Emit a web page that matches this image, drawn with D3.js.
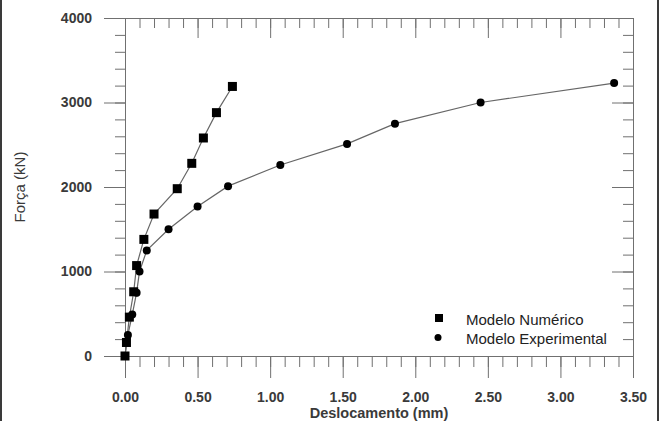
<!DOCTYPE html>
<html>
<head>
<meta charset="utf-8">
<script src="https://cdn.jsdelivr.net/npm/d3@7"></script>
<style>
  body { margin: 0; background: #fff; }
  svg { display: block; }
</style>
</head>
<body>
<script>
// displacement (mm) and force (kN)
const numX = [0, 0.01, 0.03, 0.06, 0.08, 0.13, 0.20, 0.36, 0.46, 0.54, 0.63, 0.74]
const numF = [0, 160, 460, 760, 1070, 1380, 1680, 1980, 2280, 2580, 2880, 3190]
const expX = [0, 0.02, 0.05, 0.08, 0.10, 0.15, 0.30, 0.50, 0.71, 1.07, 1.53, 1.86, 2.45, 3.37]
const expF = [0, 250, 490, 750, 1000, 1250, 1500, 1770, 2010, 2260, 2510, 2750, 3000, 3230]

const xMajor = [0, 0.5, 1, 1.5, 2, 2.5, 3, 3.5]
const xMinor = d3.range(0, 36).map(i => i / 10)
const yMajor = [0, 1000, 2000, 3000, 4000]
const yMinor = d3.range(0, 21).map(i => i * 200)

const seriesNames = ['Modelo Numérico', 'Modelo Experimental']

const width = 661, height = 421
const margin = {top: 18, right: 28, bottom: 65, left: 125}
const font = "'Liberation Sans', Arial, sans-serif"

const svg = d3.select('body').append('svg')
    .attr('width', width)
    .attr('height', height)
    .attr('font-family', font)

const x = d3.scaleLinear().domain([0, 3.5]).range([margin.left, width - margin.right])
const y = d3.scaleLinear().domain([0, 4000]).range([height - margin.bottom, margin.top])

const axisColor = '#707070'
const textColor = '#3a3a3a'

function styleAxis(g, noText) {
    g.attr('font-family', font)
    g.selectAll('.domain').attr('stroke', axisColor)
    g.selectAll('.tick line').attr('stroke', axisColor)
    g.selectAll('.tick text')
        .attr('fill', textColor)
        .attr('font-size', 14)
        .attr('font-weight', 'bold')
    if (noText) g.selectAll('.tick text').remove()
}

// minor ticks first
svg.append('g')
    .attr('transform', `translate(0,${y(0)})`)
    .call(d3.axisBottom(x).tickValues(xMinor).tickSize(11).tickSizeOuter(0).tickFormat(''))
    .call(g => styleAxis(g, true))
svg.append('g')
    .attr('transform', `translate(0,${y(4000)})`)
    .call(d3.axisBottom(x).tickValues(xMinor).tickSize(10).tickSizeOuter(0).tickFormat(''))
    .call(g => styleAxis(g, true))
svg.append('g')
    .attr('transform', `translate(${x(0)},0)`)
    .call(d3.axisLeft(y).tickValues(yMinor).tickSize(10).tickSizeOuter(0).tickFormat(''))
    .call(g => styleAxis(g, true))
svg.append('g')
    .attr('transform', `translate(${x(3.5)},0)`)
    .call(d3.axisLeft(y).tickValues(yMinor).tickSize(10).tickSizeOuter(0).tickFormat(''))
    .call(g => styleAxis(g, true))

// major ticks
svg.append('g')
    .attr('transform', `translate(0,${y(0)})`)
    .call(d3.axisBottom(x).tickValues(xMajor).tickSize(22).tickSizeOuter(0)
        .tickPadding(14).tickFormat(d3.format('.2f')))
    .call(g => styleAxis(g, false))
svg.append('g')
    .attr('transform', `translate(0,${y(4000)})`)
    .call(d3.axisBottom(x).tickValues(xMajor).tickSize(20).tickSizeOuter(0).tickFormat(''))
    .call(g => styleAxis(g, true))
svg.append('g')
    .attr('transform', `translate(${x(0)},0)`)
    .call(d3.axisLeft(y).tickValues(yMajor).tickSize(21).tickSizeOuter(0)
        .tickPadding(12).tickFormat(d3.format('d')))
    .call(g => styleAxis(g, false))
svg.append('g')
    .attr('transform', `translate(${x(3.5)},0)`)
    .call(d3.axisLeft(y).tickValues(yMajor).tickSize(21).tickSizeOuter(0).tickFormat(''))
    .call(g => styleAxis(g, true))

// axis titles
svg.append('text')
    .attr('x', (x(0) + x(3.5)) / 2)
    .attr('y', 418)
    .attr('text-anchor', 'middle')
    .attr('font-size', 14.5)
    .attr('font-weight', 'bold')
    .attr('fill', textColor)
    .text('Deslocamento (mm)')

svg.append('text')
    .attr('transform', `translate(25,${(y(0) + y(4000)) / 2}) rotate(-90)`)
    .attr('text-anchor', 'middle')
    .attr('font-size', 15)
    .attr('fill', textColor)
    .text('Força (kN)')

// data
const line = d3.line().x(d => x(d[0])).y(d => y(d[1]))
const numData = numX.map((v, i) => [v, numF[i]])
const expData = expX.map((v, i) => [v, expF[i]])

svg.append('path')
    .datum(expData)
    .attr('d', line)
    .attr('fill', 'none')
    .attr('stroke', '#666')
    .attr('stroke-width', 1.2)
svg.append('path')
    .datum(numData)
    .attr('d', line)
    .attr('fill', 'none')
    .attr('stroke', '#666')
    .attr('stroke-width', 1.2)

svg.append('g')
    .selectAll('circle')
    .data(expData)
    .join('circle')
        .attr('cx', d => x(d[0]))
        .attr('cy', d => y(d[1]))
        .attr('r', 4)
        .attr('fill', '#000')

const sq = 9
svg.append('g')
    .selectAll('rect')
    .data(numData)
    .join('rect')
        .attr('x', d => x(d[0]) - sq / 2)
        .attr('y', d => y(d[1]) - sq / 2)
        .attr('width', sq)
        .attr('height', sq)
        .attr('fill', '#000')

// legend
const legend = svg.append('g').attr('transform', 'translate(439,318)')
legend.append('rect')
    .attr('x', -4).attr('y', -4).attr('width', 8).attr('height', 8)
    .attr('fill', '#000')
legend.append('circle')
    .attr('cx', -1).attr('cy', 19.5).attr('r', 3.5)
    .attr('fill', '#000')
legend.selectAll('text')
    .data(seriesNames)
    .join('text')
        .attr('x', 27)
        .attr('y', (d, i) => 7 + i * 18.5)
        .attr('font-size', 15)
        .attr('fill', '#222')
        .text(d => d)

// outer frame edges
svg.append('line')
    .attr('x1', 1).attr('x2', 1).attr('y1', 0).attr('y2', height)
    .attr('stroke', '#3a3a3a').attr('stroke-width', 2)
svg.append('line')
    .attr('x1', 658).attr('x2', 658).attr('y1', 0).attr('y2', height)
    .attr('stroke', '#3a3a3a').attr('stroke-width', 2)
</script>
</body>
</html>
